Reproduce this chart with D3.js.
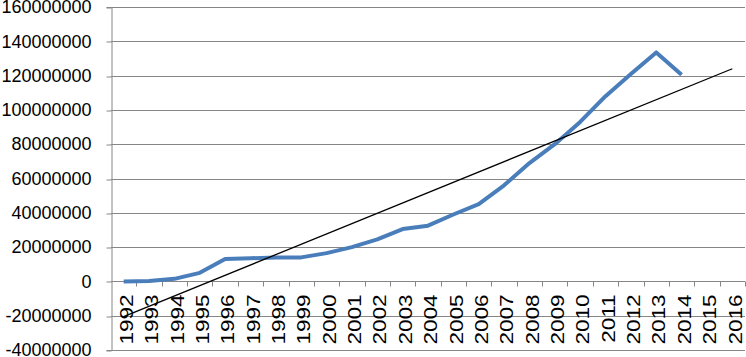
<!DOCTYPE html>
<html>
<head>
<meta charset="utf-8">
<script src="https://cdn.jsdelivr.net/npm/d3@7"></script>
<style>
  body { margin: 0; background: #fff; }
  text { font-family: "Liberation Sans", Arial, sans-serif; fill: #000; }
</style>
</head>
<body>
<div id="chart-area"></div>
<script>
// years on the x axis
var years = ["1992","1993","1994","1995","1996","1997","1998","1999","2000","2001","2002","2003",
             "2004","2005","2006","2007","2008","2009","2010","2011","2012","2013","2014","2015","2016"];

// series values (1992 - 2014)
var dataYears = ["1992","1993","1994","1995","1996","1997","1998","1999","2000","2001","2002","2003",
                 "2004","2005","2006","2007","2008","2009","2010","2011","2012","2013","2014"];
var values = [0, 200000, 1500000, 5000000, 13000000, 13500000, 14000000, 14000000, 16500000, 20000000,
              24500000, 30500000, 32500000, 39000000, 45000000, 56000000, 69000000, 80000000,
              93000000, 108000000, 121000000, 133500000, 120500000];

// linear trend line end points
var trendYears = ["1992", "2016"];
var trendValues = [-20500000, 124000000];

// y tick labels
var yTicks = [-40000000, -20000000, 0, 20000000, 40000000, 60000000, 80000000,
              100000000, 120000000, 140000000, 160000000];

var W = 746, H = 357;
var margin = { left:111, right:1, top:7, bottom:7 };

var svg = d3.select("#chart-area")
    .append("svg")
        .attr("width", W)
        .attr("height", H);

var x = d3.scaleBand()
    .domain(years)
    .range([margin.left, W - margin.right]);

var y = d3.scaleLinear()
    .domain([-40000000, 160000000])
    .range([H - margin.bottom, margin.top]);

var cx = function(yr){ return x(yr) + x.bandwidth() / 2; };

// gridlines
svg.append("g")
    .selectAll("line")
    .data(yTicks)
    .enter().append("line")
        .attr("x1", margin.left)
        .attr("x2", W - margin.right)
        .attr("y1", function(d){ return Math.round(y(d)) + 0.5; })
        .attr("y2", function(d){ return Math.round(y(d)) + 0.5; })
        .attr("stroke", "#868686")
        .attr("stroke-width", 1);

// y axis
var yAxisCall = d3.axisLeft(y)
    .tickValues(yTicks)
    .tickSize(5)
    .tickPadding(15)
    .tickFormat(function(d){ return d; });

var yAxisGroup = svg.append("g")
    .attr("transform", "translate(" + (margin.left + 0.5) + ",0)")
    .call(yAxisCall);
yAxisGroup.select(".domain").attr("stroke", "#868686");
yAxisGroup.selectAll(".tick line").attr("stroke", "#868686")
    .attr("transform", function(d){ return "translate(0," + (Math.round(y(d)) + 0.5 - y(d)) + ")"; });
yAxisGroup.selectAll("text")
    .attr("font-size", "18px")
    .attr("font-family", "Liberation Sans, Arial, sans-serif")
    .attr("fill", "#000");

// x axis at zero with ticks on category boundaries
var y0 = Math.round(y(0)) + 0.5;
var xAxisGroup = svg.append("g");
xAxisGroup.append("line")
    .attr("x1", margin.left)
    .attr("x2", W - margin.right)
    .attr("y1", y0)
    .attr("y2", y0)
    .attr("stroke", "#868686");
xAxisGroup.selectAll(".xtick")
    .data(years)
    .enter().append("line")
        .attr("class", "xtick")
        .attr("x1", function(d){ return Math.round(x(d) + x.bandwidth()) + 0.5; })
        .attr("x2", function(d){ return Math.round(x(d) + x.bandwidth()) + 0.5; })
        .attr("y1", y0)
        .attr("y2", y0 + 5)
        .attr("stroke", "#868686");
xAxisGroup.selectAll(".xlabel")
    .data(years)
    .enter().append("text")
        .attr("class", "xlabel")
        .attr("text-anchor", "end")
        .attr("dominant-baseline", "central")
        .attr("font-size", "18px")
        .attr("transform", function(d){
            return "translate(" + (cx(d) + 3) + "," + (y0 + 13) + ") rotate(-90) scale(1.25,1)";
        })
        .text(function(d){ return d; });

// series line
var line = d3.line()
    .x(function(d){ return cx(d.year); })
    .y(function(d){ return y(d.value); });

var series = dataYears.map(function(yr, i){ return { year: yr, value: values[i] }; });

svg.append("path")
    .datum(series)
    .attr("fill", "none")
    .attr("stroke", "#4a7ebb")
    .attr("stroke-width", 4)
    .attr("stroke-linejoin", "round")
    .attr("d", line);

// trend line
var trend = trendYears.map(function(yr, i){ return { year: yr, value: trendValues[i] }; });
svg.append("path")
    .datum(trend)
    .attr("fill", "none")
    .attr("stroke", "#000")
    .attr("stroke-width", 1.3)
    .attr("d", line);
</script>
</body>
</html>
